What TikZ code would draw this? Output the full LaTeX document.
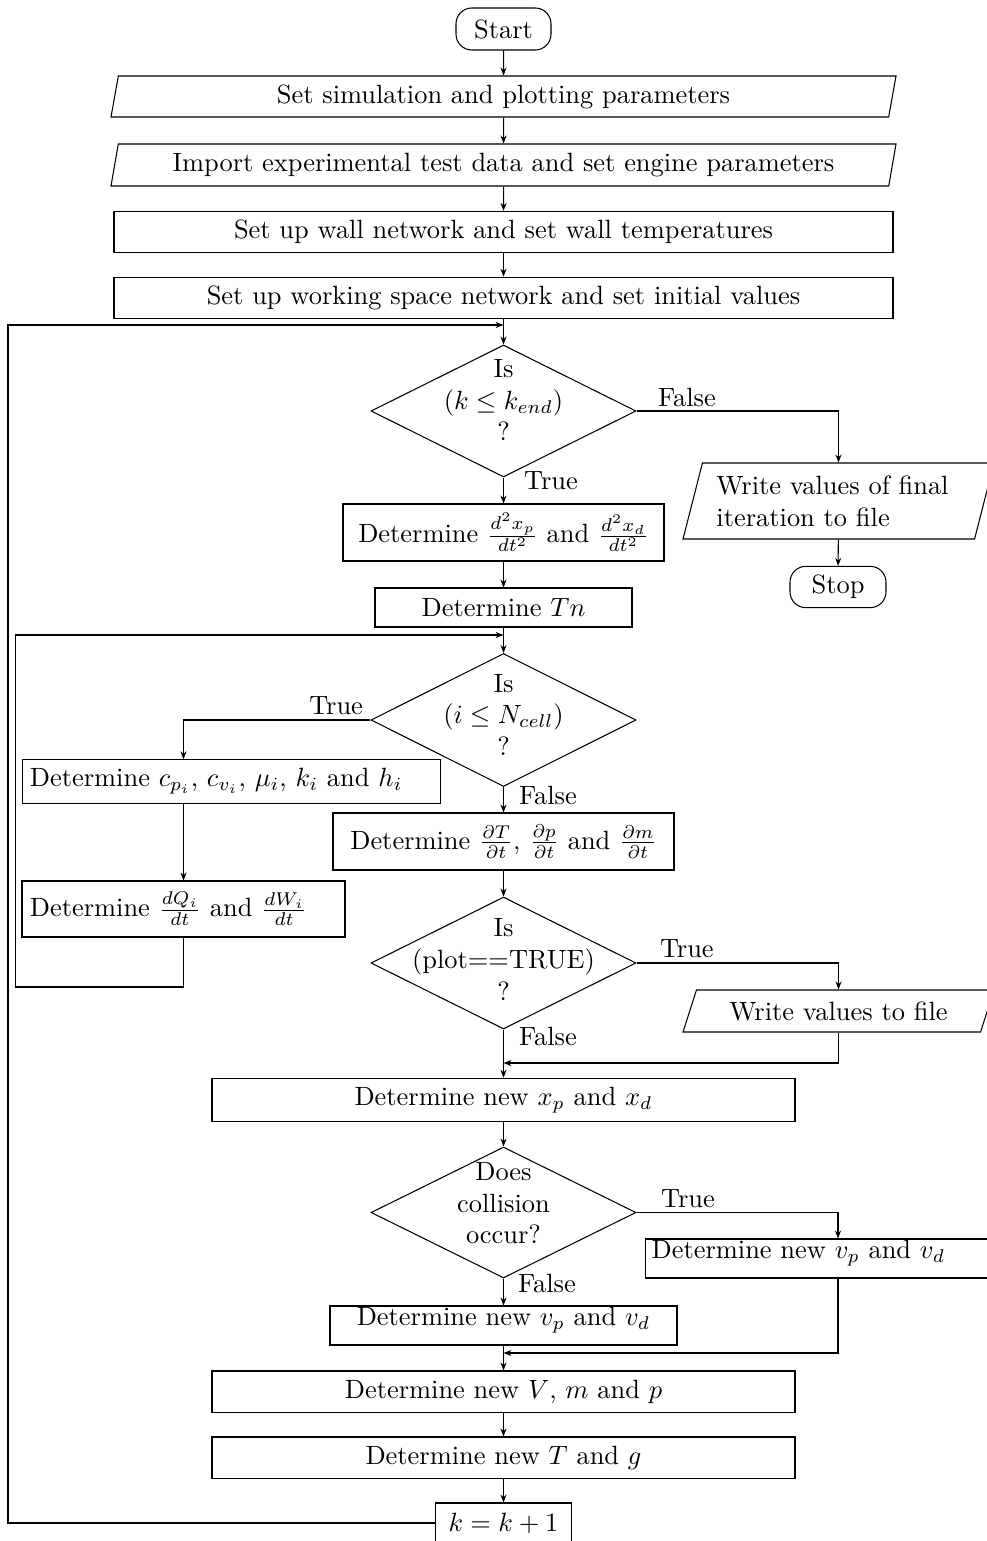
\documentclass[tikz,border=0pt]{standalone}
\usetikzlibrary{shapes.geometric,arrows.meta}
\newcommand\pxu{0.3786pt}
\newcommand\dtext[4][0pt]{\smash{\raisebox{#1}{\makebox[0pt]{\begin{tabular}{@{}c@{}}#2\\#3\\#4\end{tabular}}}}}
\begin{document}
\begin{tikzpicture}[x=0.3786pt,y=-0.3786pt,
  box/.style={draw, rectangle, inner sep=3.33pt},
  vbox/.style={box, inner ysep=0pt, text height=7pt, text depth=7pt, minimum height={39*\pxu}},
  para/.style={draw, trapezium, trapezium stretches body=true, inner sep=0pt},
  term/.style={draw, rectangle, rounded corners=6pt},
  dec/.style={draw, diamond, inner sep=0pt, minimum width={265*\pxu}, minimum height={132*\pxu}},
  arr/.style={-{Stealth[length=3pt,width=2.3pt]}},
  lbl/.style={inner sep=0pt}]
\useasboundingbox (0,0) rectangle (986,1541);

% nodes
\node[term, minimum width={95*\pxu}, minimum height={42*\pxu}] (start) at (503.5,29) {Start};
\node[para, trapezium left angle=73, trapezium right angle=107, minimum width={785*\pxu}, minimum height={41*\pxu}] (p1) at (503.5,96.5) {Set simulation and plotting parameters};
\node[para, trapezium left angle=73, trapezium right angle=107, minimum width={785*\pxu}, minimum height={42*\pxu}] (p2) at (503.5,165) {Import experimental test data and set engine parameters};
\node[box, minimum width={779*\pxu}, minimum height={40*\pxu}] (b3) at (503.5,232) {Set up wall network and set wall temperatures};
\node[box, minimum width={779*\pxu}, minimum height={40*\pxu}] (b4) at (503.5,298) {Set up working space network and set initial values};
\node[dec, minimum height={132*\pxu}] (d1) at (503.5,411) {\dtext[0.6pt]{Is}{$(k\leq k_{end})$}{?}};
\node[para, trapezium left angle=69, trapezium right angle=111, minimum width={311*\pxu}, minimum height={76*\pxu}, text width=92.4pt, align=left] (w1) at (838.5,501) {Write values of final\\iteration to file};
\node[term, minimum width={96*\pxu}, minimum height={40*\pxu}] (stop) at (838,587) {Stop};
\node[box, minimum width={321*\pxu}, minimum height={57*\pxu}] (b5) at (503.5,532.5) {Determine $\frac{d^2x_p}{dt^2}$ and $\frac{d^2x_d}{dt^2}$};
\node[box, minimum width={257*\pxu}, minimum height={39*\pxu}] (tn) at (503.5,607.5) {Determine $Tn$};
\node[dec, minimum height={133*\pxu}] (d2) at (503.5,720) {\dtext[-1.5pt]{Is}{$(i\leq N_{cell})$}{?}};
\node[box, inner xsep=3pt, text width=152.6pt, align=left, minimum height={39*\pxu}] (cp) at (231.5,781.5) {Determine $c_{p_i}$, $c_{v_i}$, $\mu_i$, $k_i$ and $h_i$};
\node[box, inner xsep=3pt, text width=116.3pt, align=left, minimum height={56*\pxu}] (dq) at (183.5,909) {Determine $\frac{dQ_i}{dt}$ and $\frac{dW_i}{dt}$};
\node[box, minimum width={341*\pxu}, minimum height={57*\pxu}] (pd) at (503.5,841.5) {Determine $\frac{\partial T}{\partial t}$, $\frac{\partial p}{\partial t}$ and $\frac{\partial m}{\partial t}$};
\node[dec] (d3) at (503.5,963) {\dtext[-2.2pt]{Is}{(plot==TRUE)}{?}};
\node[para, trapezium left angle=55, trapezium right angle=125, minimum width={311*\pxu}, minimum height={42*\pxu}] (wv) at (838.5,1011) {Write values to file};
\node[box, minimum width={583*\pxu}, minimum height={38*\pxu}] (xb) at (503.5,1100) {Determine new $x_p$ and $x_d$};
\node[dec, minimum height={131*\pxu}] (d4) at (503.5,1212.5) {\dtext{Does}{collision}{occur?}};
\node[vbox, inner xsep=2.5pt, text width=141.1pt, align=left] (vr) at (838,1258.5) {Determine new $v_p$ and $v_d$};
\node[vbox, minimum width={347*\pxu}] (vl) at (503.5,1325.5) {Determine new $v_p$ and $v_d$};
\node[box, minimum width={583*\pxu}, minimum height={39*\pxu}] (vmp) at (503.5,1391.5) {Determine new $V$, $m$ and $p$};
\node[box, minimum width={583*\pxu}, minimum height={39*\pxu}] (tg) at (503.5,1457.5) {Determine new $T$ and $g$};
\node[box, minimum width={136*\pxu}, minimum height={40*\pxu}] (kk) at (503.5,1523) {$k=k+1$};

% junctions
\coordinate (j1) at (503.5,325);
\coordinate (l1) at (8,1523);
\coordinate (j2) at (503.5,635);
\coordinate (l2) at (15.6,987);
\coordinate (j3) at (503.5,1063);
\coordinate (j4) at (503.5,1353);

% connectors
\draw[arr] (start) -- (p1);
\draw[arr] (p1) -- (p2);
\draw[arr] (p2) -- (b3);
\draw[arr] (b3) -- (b4);
\draw[arr] (b4) -- (d1);
\draw[arr] (d1.east) -| node[lbl, at start, anchor=base west, xshift=7.95pt, yshift=1.89pt] {False} (w1.north);
\draw[arr] (w1) -- (stop);
\draw[arr] (d1.south) -- node[lbl, at start, anchor=base west, xshift=7.6pt, yshift=-4.5pt] {True} (b5.north);
\draw[arr] (b5) -- (tn);
\draw[arr] (tn) -- (d2);
\draw[arr] (d2.west) -| node[lbl, at start, anchor=base east, xshift=-2.65pt, yshift=2.27pt] {True} (dq.north |- cp.north);
\draw[arr] (cp.south -| dq.north) -- (dq.north);
\draw[arr] (dq.south) |- (l2) |- (j2);
\draw[arr] (d2.south) -- node[lbl, at start, anchor=base west, xshift=5.68pt, yshift=-6.44pt] {False} (pd.north);
\draw[arr] (pd) -- (d3);
\draw[arr] (d3.east) -| node[lbl, at start, anchor=base west, xshift=8.7pt, yshift=2.27pt] {True} (wv.north);
\draw[arr] (wv.south) |- (j3);
\draw[arr] (d3.south) -- node[lbl, at start, anchor=base west, xshift=5.68pt, yshift=-6.06pt] {False} (xb.north);
\draw[arr] (xb) -- (d4);
\draw[arr] (d4.east) -| node[lbl, at start, anchor=base west, xshift=9.1pt, yshift=2.08pt] {True} (vr.north);
\draw[arr] (vr.south) |- (j4);
\draw[arr] (d4.south) -- node[lbl, at start, anchor=base west, xshift=5.3pt, yshift=-5.3pt] {False} (vl.north);
\draw[arr] (vl) -- (vmp);
\draw[arr] (vmp) -- (tg);
\draw[arr] (tg) -- (kk);
\draw[arr] (kk.west) -- (l1) |- (j1);
\end{tikzpicture}
\end{document}
